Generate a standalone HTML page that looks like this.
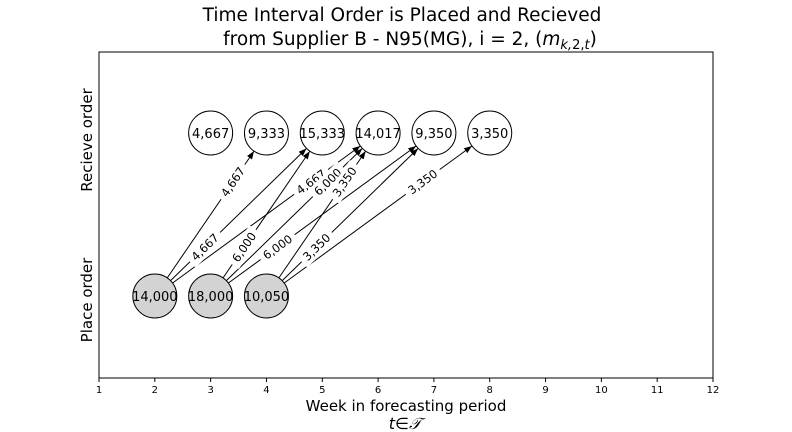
<!DOCTYPE html>
<html><head><meta charset="utf-8"><style>
body{margin:0;background:#fff;}
svg{display:block;font-family:"DejaVu Sans","Liberation Sans",sans-serif;}
</style></head><body>
<svg id="chart" width="792" height="432" viewBox="0 0 792 432">
<defs><marker id="ah" markerWidth="8" markerHeight="6" refX="8" refY="3" orient="auto" markerUnits="userSpaceOnUse"><path d="M0,0 L8,3 L0,6 Z" fill="#000"/></marker></defs>
<text x="402" y="21" font-size="18.5" text-anchor="middle">Time Interval Order is Placed and Recieved</text>
<text x="410" y="45" font-size="18.5" text-anchor="middle">from Supplier B - N95(MG), i = 2, (<tspan font-style="italic">m</tspan><tspan font-size="13" dy="4" font-style="italic">k,</tspan><tspan font-size="13">2,</tspan><tspan font-size="13" font-style="italic">t</tspan><tspan dy="-4">)</tspan></text>
<rect x="99" y="52" width="614" height="326" fill="none" stroke="#000" stroke-width="1"/>
<g id="xticks"></g>
<g id="edges"></g>
<g id="nodes"></g>
<text x="406" y="411" font-size="15" text-anchor="middle">Week in forecasting period</text>
<text x="405" y="429" font-size="16" text-anchor="middle" font-style="italic">t∈𝒯</text>
<text transform="translate(92,140) rotate(-90)" font-size="15" text-anchor="middle">Recieve order</text>
<text transform="translate(92,300) rotate(-90)" font-size="15" text-anchor="middle">Place order</text>
</svg>
<script>
const ticks=[1,2,3,4,5,6,7,8,9,10,11,12];
const placeWeeks=[2,3,4];
const placeValues=["14,000","18,000","10,050"];
const receiveWeeks=[3,4,5,6,7,8];
const receiveValues=["4,667","9,333","15,333","14,017","9,350","3,350"];
const edgeFrom=[2,2,2,3,3,3,4,4,4];
const edgeTo=[4,5,6,5,6,7,6,7,8];
const edgeLabels=["4,667","4,667","4,667","6,000","6,000","6,000","3,350","3,350","3,350"];
const labelPos=[0.7,0.3,0.7,0.3,0.7,0.3,0.7,0.3,0.7];
const NS="http://www.w3.org/2000/svg";
const xs=w=>99+(w-1)*(614/11);
const yPlace=296,yRecv=133,R=22;
function mk(t,a,p){const e=document.createElementNS(NS,t);for(const k in a)e.setAttribute(k,a[k]);p.appendChild(e);return e;}
const gt=document.getElementById('xticks');
ticks.forEach(t=>{
 const l=mk('line',{x1:xs(t),x2:xs(t),y1:378,y2:382,stroke:'#000'},gt);
 
 
 const tx=mk('text',{x:xs(t),y:393,'font-size':10,'text-anchor':'middle'},gt);
 tx.textContent=t;
 
 
});
const ge=document.getElementById('edges');
edgeFrom.forEach((f,i)=>{
 const x1=xs(f),y1=yPlace,x2=xs(edgeTo[i]),y2=yRecv;
 const dx=x2-x1,dy=y2-y1,L=Math.hypot(dx,dy),ux=dx/L,uy=dy/L;
 const ln=mk('line',{x1:x1+ux*R,y1:y1+uy*R,x2:x2-ux*R,y2:y2-uy*R,stroke:'#000','stroke-width':1,'marker-end':'url(#ah)'},ge);
 
 
});
edgeFrom.forEach((f,i)=>{
 const x1=xs(f),y1=yPlace,x2=xs(edgeTo[i]),y2=yRecv;
 const p=labelPos[i],cx=x1+(x2-x1)*p,cy=y1+(y2-y1)*p;
 const ang=Math.atan2(y2-y1,x2-x1)*180/Math.PI;
 const g=mk('g',{transform:`translate(${cx},${cy}) rotate(${ang})`},ge);
 
 
 mk('rect',{x:-21,y:-8,width:42,height:16,fill:'#fff'},g);
 const t=mk('text',{x:0,y:4,'font-size':11.5,'text-anchor':'middle'},g);
 t.textContent=edgeLabels[i];
});
const gn=document.getElementById('nodes');
function node(w,y,v,fill,name){
 const g=mk('g',{},gn);
 
 
 mk('circle',{cx:xs(w),cy:y,r:R,fill:fill,stroke:'#000','stroke-width':1},g);
 const t=mk('text',{x:xs(w),y:y+5,'font-size':13,'text-anchor':'middle'},g);
 t.textContent=v;
}
placeWeeks.forEach((w,i)=>node(w,yPlace,placeValues[i],'#d3d3d3','place-node-week-'+w));
receiveWeeks.forEach((w,i)=>node(w,yRecv,receiveValues[i],'#fff','receive-node-week-'+w));
</script>
</body></html>
